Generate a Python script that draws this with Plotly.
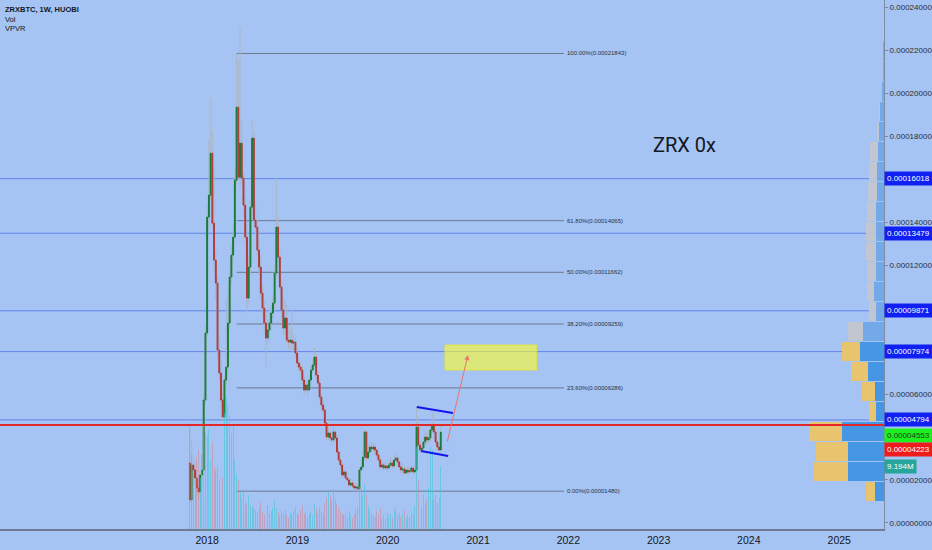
import numpy as np
import pandas as pd
import plotly.graph_objects as go

# ZRXBTC weekly candles, values in satoshi, first week starts 2017-10-23
opens = [2790, 1070, 2697, 2465, 2093, 1628, 1441, 2232, 2465, 5720,
         8835, 14229, 15252, 17205, 13950, 12230, 11160, 8045, 6975, 5720,
         4929, 6650, 7254, 9300, 11439, 12462, 13299, 15950, 19344, 16089,
         17670, 16043, 14787, 13299, 10463, 11904, 14694, 17903, 14090, 13764,
         12695, 11904, 10695, 9998, 9300, 8603, 8975, 9300, 9765, 10230,
         11625, 13764, 12369, 10974, 9905, 9068, 9533, 8510, 8417, 8510,
         8370, 8417, 7905, 7440, 7254, 7115, 6650, 6185, 6417, 6185,
         6650, 7115, 7347, 7719, 6882, 6510, 5859, 5487, 5255, 4650,
         3999, 4185, 3953, 3860, 4232, 3953, 3302, 2930, 2697, 2232,
         2372, 2093, 2000, 1767, 1860, 1721, 1628, 1674, 1581, 2465,
         2604, 3069, 4232, 3023, 3302, 3534, 3441, 3534, 3395, 3162,
         2930, 2604, 2697, 2558, 2651, 2558, 2697, 2790, 2651, 2930,
         3023, 2837, 2604, 2465, 2511, 2325, 2465, 2372, 2418, 2558,
         2372, 2465, 4464, 3627, 3395, 3488, 3767, 3999, 3860, 3953,
         4325, 4557, 4232, 3767, 3534, 3395]
highs = [4325, 3860, 3162, 2837, 2465, 2000, 2465, 3162, 5952, 9207,
         14787, 17810, 19763, 18275, 16415, 12695, 11532, 8742, 7580, 6417,
         6882, 10370, 10835, 11765, 12927, 13857, 16415, 21843, 21530, 23064,
         18740, 16415, 15252, 13857, 12462, 15020, 18740, 18275, 15020, 14322,
         13162, 12462, 11067, 10370, 9672, 9440, 9905, 10137, 10602, 11997,
         16043, 14322, 12695, 11300, 10602, 10370, 10137, 9207, 8975, 9905,
         8742, 8603, 8184, 7673, 7487, 7347, 6882, 6650, 6650, 6882,
         7347, 7673, 8184, 7952, 7022, 6650, 5952, 5720, 5394, 4790,
         4557, 4325, 4185, 4697, 4325, 4092, 3488, 3069, 2837, 2604,
         2465, 2325, 2093, 2093, 2000, 1860, 1860, 1767, 2604, 2930,
         3395, 4325, 4325, 3627, 3767, 3720, 3767, 3627, 3488, 3302,
         3069, 2930, 2837, 2837, 2790, 2930, 3069, 2930, 3162, 3302,
         3162, 2930, 2697, 2790, 2651, 2604, 2604, 2604, 2697, 2651,
         2651, 5394, 4697, 3860, 3720, 3999, 4325, 4232, 4325, 4557,
         5115, 5162, 4418, 3860, 3720, 4557]
lows = [837, 977, 2093, 1767, 1302, 1070, 1163, 2000, 2232, 5487,
        8603, 13625, 15020, 13718, 11765, 10370, 7580, 6650, 5255, 4790,
        4790, 6417, 7022, 8975, 11067, 12137, 12927, 15717, 15950, 15717,
        15717, 14322, 12927, 9765, 10137, 11532, 14322, 13718, 13392, 12462,
        11532, 10370, 9533, 8742, 7254, 8277, 8510, 8975, 9533, 9998,
        11393, 12137, 10742, 9533, 8742, 8742, 8277, 8138, 8045, 7952,
        8045, 7673, 7254, 7022, 6882, 6417, 5952, 6092, 5906, 6092,
        6371, 6975, 7254, 6650, 6371, 5720, 5255, 5115, 4464, 3860,
        3860, 3767, 3627, 3767, 3767, 3162, 2790, 2558, 2093, 2093,
        2000, 1860, 1674, 1674, 1628, 1535, 1535, 1480, 1488, 2325,
        2465, 2930, 2837, 2930, 3162, 3255, 3302, 3162, 3023, 2790,
        2465, 2511, 2418, 2465, 2372, 2465, 2604, 2511, 2558, 2790,
        2651, 2465, 2325, 2325, 2232, 2279, 2232, 2279, 2325, 2279,
        2279, 2279, 3488, 3255, 3255, 3395, 3627, 3627, 3720, 3767,
        4185, 4092, 3627, 3395, 3302, 3302]
closes = [1070, 2697, 2465, 2093, 1628, 1441, 2232, 2465, 5720, 8835,
          14229, 15252, 17205, 13950, 12230, 11160, 8045, 6975, 5720, 4929,
          6650, 7254, 9300, 11439, 12462, 13299, 15950, 19344, 16089, 17670,
          16043, 14787, 13299, 10463, 11904, 14694, 17903, 14090, 13764, 12695,
          11904, 10695, 9998, 9300, 8603, 8975, 9300, 9765, 10230, 11625,
          13764, 12369, 10974, 9905, 9068, 9533, 8510, 8417, 8510, 8370,
          8417, 7905, 7440, 7254, 7115, 6650, 6185, 6417, 6185, 6650,
          7115, 7347, 7719, 6882, 6510, 5859, 5487, 5255, 4650, 3999,
          4185, 3953, 3860, 4232, 3953, 3302, 2930, 2697, 2232, 2372,
          2093, 2000, 1767, 1860, 1721, 1628, 1674, 1581, 2465, 2604,
          3069, 4232, 3023, 3302, 3534, 3441, 3534, 3395, 3162, 2930,
          2604, 2697, 2558, 2651, 2558, 2697, 2790, 2651, 2930, 3023,
          2837, 2604, 2465, 2511, 2325, 2465, 2372, 2418, 2558, 2372,
          2465, 4464, 3627, 3395, 3488, 3767, 3999, 3860, 3953, 4325,
          4557, 4232, 3767, 3534, 3395, 4223]
volumes = [15.5, 11.0, 8.0, 6.0, 10.5, 11.5, 7.5, 11.0, 15.0, 14.0,
           13.5, 14.5, 10.0, 12.5, 9.0, 8.5, 9.0, 7.0, 6.5, 7.5,
           17.0, 19.3, 18.0, 16.5, 14.0, 15.0, 10.0, 8.0, 7.0, 5.5,
           4.5, 5.5, 4.0, 3.5, 5.0, 3.5, 3.0, 3.2, 2.8, 2.5,
           3.0, 4.0, 2.5, 2.2, 2.8, 3.5, 2.4, 2.6, 3.0, 4.2,
           3.0, 2.5, 2.0, 2.7, 2.2, 2.8, 2.0, 1.8, 2.4, 2.2,
           2.6, 3.2, 2.4, 2.0, 2.8, 3.5, 2.2, 2.6, 1.8, 2.2,
           2.5, 2.0, 3.6, 3.0, 2.4, 3.2, 2.6, 2.2, 3.8, 4.5,
           5.6, 5.0, 4.2, 5.8, 4.4, 3.6, 3.0, 2.6, 2.2, 2.0,
           2.4, 1.8, 2.6, 2.0, 1.6, 2.2, 2.8, 3.2, 6.2, 5.4,
           4.8, 6.5, 5.0, 3.4, 2.8, 2.2, 2.0, 1.8, 2.6, 2.2,
           3.0, 1.6, 2.0, 1.5, 2.4, 1.8, 2.2, 1.6, 2.6, 3.0,
           2.0, 2.4, 1.8, 2.2, 2.8, 1.6, 2.0, 1.8, 2.4, 2.2,
           3.4, 12.0, 7.0, 4.0, 3.2, 5.0, 3.6, 4.4, 6.0, 12.0,
           11.5, 4.4, 5.0, 3.8, 4.5, 9.194]  # millions

# volume profile (VPVR), 24 rows of 930 sat starting at 1000 sat
vp_row_low = 1000
vp_row_size = 930
vp_up = [18, 72, 72, 84, 16, 18, 32, 48, 42, 16, 20, 16,
         16, 16, 16, 14, 14, 12, 10, 8, 4, 2, 1.6, 1]
vp_down = [18, 68, 64, 66, 14, 26, 34, 36, 30, 14, 14, 18,
           20, 20, 18, 18, 16, 16, 4, 2, 1, 1, 0.6, 0.4]
vp_value_area = [True] * 8 + [False] * 16

fib_pct = ["100.00%", "61.80%", "50.00%", "38.20%", "23.60%", "0.00%"]
fib_sats = [21843, 14065, 11662, 9259, 6286, 1480]
fib_from, fib_to = "2018-05-01", "2021-12-14"

hline_sats = [16018, 13479, 9871, 7974, 4794]
red_line_sats = 4553
last_sats = 4223
last_vol = 9.194

year_ticks = [2018, 2019, 2020, 2021, 2022, 2023, 2024, 2025]
price_ticks = [0, 2000, 6000, 12000, 14000, 18000, 20000, 22000, 24000]  # sats

box_dates = ["2020-08-20", "2021-08-26"]
box_sats = [7116, 8279]
flag_top = (["2020-04-28", "2020-09-21"], [5395, 5116])
flag_bot = (["2020-05-15", "2020-09-02"], [3349, 3116])
arrow_from = ("2020-08-28", 3721)
arrow_to = ("2020-11-21", 7814)

SAT = 1e-8
BG = "#a5c3f3"

dates = pd.date_range("2017-10-23", periods=len(closes), freq="7D")
o = np.array(opens) * SAT
h = np.array(highs) * SAT
l = np.array(lows) * SAT
c = np.array(closes) * SAT
up = c >= o

fig = go.Figure()

# volume histogram
fig.add_trace(go.Bar(
    x=dates, y=volumes, yaxis="y2",
    width=4 * 86400000,
    marker=dict(color=np.where(up, "rgba(60,200,215,0.55)",
                               "rgba(235,110,120,0.40)"), line_width=0),
    hoverinfo="skip", showlegend=False))

# wicks (grey), then coloured bodies on top
fig.add_trace(go.Candlestick(
    x=dates, open=o, high=h, low=l, close=c,
    increasing=dict(line=dict(color="#aab6c8", width=1), fillcolor="#aab6c8"),
    decreasing=dict(line=dict(color="#aab6c8", width=1), fillcolor="#aab6c8"),
    whiskerwidth=0, showlegend=False, hoverinfo="skip"))
fig.add_trace(go.Candlestick(
    x=dates, open=o, close=c,
    high=np.maximum(o, c), low=np.minimum(o, c),
    increasing=dict(line=dict(color="#157a35", width=1), fillcolor="#1f9a45"),
    decreasing=dict(line=dict(color="#b03a3a", width=1), fillcolor="#c94a4a"),
    whiskerwidth=0, showlegend=False, hoverinfo="skip"))

# VPVR
vp_mid = [(vp_row_low + vp_row_size * (i + 0.5)) * SAT for i in range(len(vp_up))]
fig.add_trace(go.Bar(
    y=vp_mid, x=vp_up, orientation="h", xaxis="x2",
    width=vp_row_size * SAT * 0.93,
    marker=dict(color=["#4696e6" if v else "rgba(110,165,232,0.9)" for v in vp_value_area],
                line_width=0),
    hoverinfo="skip", showlegend=False))
fig.add_trace(go.Bar(
    y=vp_mid, x=vp_down, orientation="h", xaxis="x2",
    width=vp_row_size * SAT * 0.93,
    marker=dict(color=["#e8c46e" if v else "rgba(196,198,204,0.9)" for v in vp_value_area],
                line_width=0),
    hoverinfo="skip", showlegend=False))

shapes = []
for p in hline_sats:
    shapes.append(dict(type="line", xref="paper", x0=0, x1=1, y0=p * SAT, y1=p * SAT,
                       line=dict(color="#6384ea", width=1), layer="below"))
shapes.append(dict(type="line", xref="paper", x0=0, x1=1,
                   y0=red_line_sats * SAT, y1=red_line_sats * SAT,
                   line=dict(color="#e3262a", width=2)))
for p in fib_sats:
    shapes.append(dict(type="line", xref="x", x0=fib_from, x1=fib_to,
                       y0=p * SAT, y1=p * SAT,
                       line=dict(color="#6c7a92", width=1), layer="below"))
shapes.append(dict(type="rect", xref="x", x0=box_dates[0], x1=box_dates[1],
                   y0=box_sats[0] * SAT, y1=box_sats[1] * SAT,
                   fillcolor="rgba(255,255,40,0.6)",
                   line=dict(color="rgba(230,230,60,0.9)", width=1)))
for xs, ys in (flag_top, flag_bot):
    shapes.append(dict(type="line", xref="x", x0=xs[0], x1=xs[1],
                       y0=ys[0] * SAT, y1=ys[1] * SAT,
                       line=dict(color="#1414f0", width=2)))

ann = []
for pct, p in zip(fib_pct, fib_sats):
    ann.append(dict(x=fib_to, y=p * SAT, xref="x", yref="y", xanchor="left",
                    xshift=1, yanchor="middle", showarrow=False,
                    text=f"{pct}({p * SAT:.8f})",
                    font=dict(size=6, color="#2c3340", family="Liberation Sans")))

# price tags on the right scale; the lower ones are pushed down so they stack
tags = [(p, "#1020f2", "white", 0) for p in hline_sats]
tags += [(red_line_sats, "#1ef01e", "#1b3a1b", -10), (last_sats, "#ee1c1c", "white", -17)]
for p, bg, fg, dy in tags:
    ann.append(dict(x=1, y=p * SAT, xref="paper", yref="y", xanchor="left",
                    yanchor="middle", xshift=0, yshift=dy, showarrow=False,
                    text=f"{p * SAT:.8f}", bgcolor=bg, borderpad=2,
                    font=dict(size=8, color=fg, family="Liberation Sans")))
ann.append(dict(x=1, y=last_vol, xref="paper", yref="y2", xanchor="left",
                yanchor="middle", xshift=0, showarrow=False,
                text=f"{last_vol:.3f}M", bgcolor="#26a69a", borderpad=2,
                font=dict(size=8, color="white", family="Liberation Sans")))

ann.append(dict(x=arrow_to[0], y=arrow_to[1] * SAT, ax=arrow_from[0],
                ay=arrow_from[1] * SAT, xref="x", yref="y", axref="x", ayref="y",
                text="", showarrow=True, arrowhead=2, arrowsize=1, arrowwidth=1,
                arrowcolor="#e9756c"))

ann.append(dict(x="2023-04-15", y=0.0001758, xref="x", yref="y", showarrow=False,
                text="ZRX 0x",
                font=dict(size=20, color="#131722",
                          family="Liberation Sans Narrow, Roboto, sans-serif")))

for i, t in enumerate(["<b>ZRXBTC, 1W, HUOBI</b>", "Vol", "VPVR"]):
    ann.append(dict(x=0, y=1 - (9 + 10 * i) / 529, xref="paper", yref="paper",
                    showarrow=False, text=t, xanchor="left", yanchor="middle",
                    xshift=3,
                    font=dict(size=7.5, color="#131722", family="Liberation Sans")))

fig.update_layout(
    width=932, height=550,
    margin=dict(l=0, r=48, t=0, b=21, autoexpand=False),
    paper_bgcolor=BG, plot_bgcolor=BG,
    barmode="stack", bargap=0,
    showlegend=False,
    shapes=shapes, annotations=ann,
    xaxis=dict(type="date", range=["2015-09-16", "2025-07-01"],
               tickvals=[f"{y}-01-01" for y in year_ticks],
               ticktext=[str(y) for y in year_ticks],
               showgrid=False, zeroline=False, rangeslider=dict(visible=False),
               showline=True, linecolor="#6e7c93", linewidth=2, ticks="",
               tickfont=dict(size=10.5, color="#131722", family="Liberation Sans")),
    xaxis2=dict(overlaying="x", range=[1768, 0], visible=False),
    yaxis=dict(side="right", range=[-0.0000028, 0.0002433],
               tickvals=[p * SAT for p in price_ticks],
               ticktext=[f"{p * SAT:.8f}" for p in price_ticks],
               showgrid=False, zeroline=False,
               showline=True, linecolor="#7d8ba3", linewidth=1,
               ticks="outside", ticklen=3, tickcolor="#7d8ba3",
               tickfont=dict(size=8, color="#2a2e39", family="Liberation Sans")),
    yaxis2=dict(overlaying="y", range=[0, 77.2], visible=False),
)

fig.write_html("out.html",
               config={"displayModeBar": False},
               post_script="document.body.style.margin='0';"
                           "document.body.style.overflow='hidden';")
